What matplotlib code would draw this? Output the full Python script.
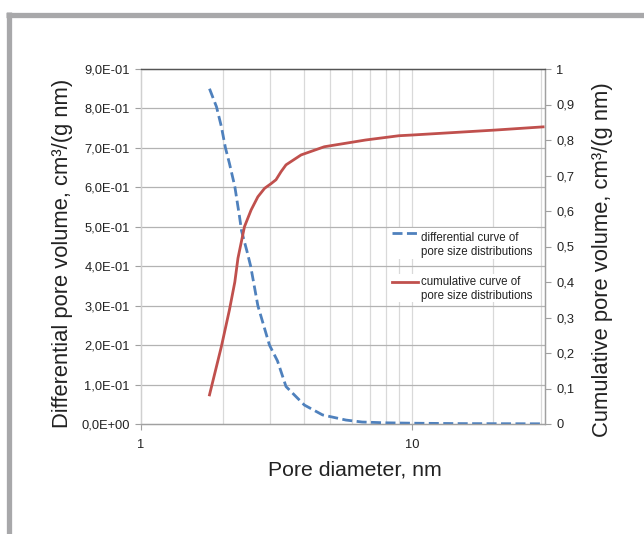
import matplotlib
matplotlib.use("Agg")
import matplotlib.pyplot as plt
from matplotlib.lines import Line2D
from matplotlib.patches import Rectangle
from matplotlib.ticker import FixedLocator, NullFormatter, FixedFormatter

plt.rcParams['font.family'] = ['Liberation Sans', 'DejaVu Sans']

# Differential curve (left axis)
diff_d = [1.79, 1.90, 1.98, 2.05, 2.12, 2.22, 2.31, 2.35, 2.47, 2.54, 2.70, 2.98,
          3.19, 3.43, 4.01, 4.68, 5.71, 6.55, 8.0, 10.0, 15.0, 20.0, 30.5]
diff_v = [0.85, 0.804, 0.754, 0.70, 0.661, 0.602, 0.526, 0.49, 0.434, 0.40, 0.30, 0.20,
          0.160, 0.095, 0.048, 0.023, 0.010, 0.005, 0.003, 0.002, 0.001, 0.0008, 0.0005]

# Cumulative curve (right axis)
cum_d = [1.79, 1.98, 2.12, 2.22, 2.28, 2.41, 2.55, 2.70, 2.86, 3.02, 3.15, 3.29, 3.43,
         3.90, 4.75, 6.75, 8.95, 10.0, 20.3, 30.5]
cum_v = [0.082, 0.218, 0.321, 0.40, 0.467, 0.556, 0.603, 0.640, 0.664, 0.677, 0.688,
         0.711, 0.730, 0.758, 0.781, 0.80, 0.812, 0.814, 0.828, 0.837]

left_ticks = [0.0, 0.1, 0.2, 0.3, 0.4, 0.5, 0.6, 0.7, 0.8, 0.9]
left_labels = ['0,0E+00', '1,0E-01', '2,0E-01', '3,0E-01', '4,0E-01',
               '5,0E-01', '6,0E-01', '7,0E-01', '8,0E-01', '9,0E-01']
right_ticks = [0, 0.1, 0.2, 0.3, 0.4, 0.5, 0.6, 0.7, 0.8, 0.9, 1.0]
right_labels = ['0', '0,1', '0,2', '0,3', '0,4', '0,5', '0,6', '0,7', '0,8', '0,9', '1']
x_major = [1, 10]
x_labels = ['1', '10']
x_grid = [2, 3, 4, 5, 6, 7, 8, 9, 10, 20, 30]
legend_labels = ['differential curve of\npore size distributions',
                 'cumulative curve of\npore size distributions']

BLUE = '#4f81bd'
RED = '#c0504d'
TXT = '#222222'

W, H = 644, 534
AX_L, AX_R, AX_T, AX_B = 141, 545, 69, 424

fig = plt.figure(figsize=(W/100, H/100), dpi=100)
ax = fig.add_axes([AX_L/W, (H-AX_B)/H, (AX_R-AX_L)/W, (AX_B-AX_T)/H])
ax2 = ax.twinx()

def axx(px):
    return (px - AX_L) / (AX_R - AX_L)

def axy(py):
    return (AX_B - py) / (AX_B - AX_T)

ax.set_xscale('log')
ax.set_xlim(1, 31)
ax.set_ylim(0, 0.9)
ax2.set_ylim(0, 1)

# gridlines
for xv in x_grid:
    ax.axvline(xv, color='#d9d9d9', lw=0.9, zorder=0)
for yv in left_ticks[1:-1]:
    ax.axhline(yv, color='#b3b3b3', lw=0.9, zorder=0)

ld, = ax.plot(diff_d, diff_v, color=BLUE, lw=2.0, dashes=(3.6, 1.6), zorder=3)
lc, = ax2.plot(cum_d, cum_v, color=RED, lw=2.0, zorder=3)

ax.xaxis.set_major_locator(FixedLocator(x_major))
ax.xaxis.set_major_formatter(FixedFormatter(x_labels))
ax.xaxis.set_minor_locator(FixedLocator([]))
ax.xaxis.set_minor_formatter(NullFormatter())
ax.set_yticks(left_ticks)
ax.set_yticklabels(left_labels)
ax2.set_yticks(right_ticks)
ax2.set_yticklabels(right_labels)

for a in (ax, ax2):
    a.tick_params(axis='both', labelsize=9.3, colors='#a0a0a0', labelcolor=TXT,
                  length=4, width=0.8)
ax.tick_params(axis='x', pad=7, length=4)
ax.tick_params(axis='y', pad=4)
ax2.tick_params(axis='y', pad=4)

for a in (ax, ax2):
    a.spines['left'].set_color('#d0d0d0')
    a.spines['bottom'].set_color('#a0a0a0')
    a.spines['right'].set_color('#a0a0a0')
    a.spines['top'].set_color('#555555')
    for s in a.spines.values():
        s.set_linewidth(0.9)

ax.set_xlabel('Pore diameter, nm', fontsize=15.3, color=TXT)
ax.xaxis.set_label_coords(axx(355), axy(461), transform=ax.transAxes)
ax.set_ylabel('Differential pore volume, cm³/(g nm)', fontsize=15.8, color=TXT)
ax.yaxis.set_label_coords(axx(73), axy(253), transform=ax.transAxes)
ax2.set_ylabel('Cumulative pore volume, cm³/(g nm)', fontsize=15.8, color=TXT)
ax2.yaxis.set_label_coords(axx(592), axy(260), transform=ax2.transAxes)

# legend (drawn manually to match the original entry layout)
ax2.add_patch(Rectangle((axx(389), axy(259)), axx(537)-axx(389), axy(228)-axy(259),
                        transform=ax2.transAxes, facecolor='white', edgecolor='none', zorder=4))
ax2.add_patch(Rectangle((axx(389), axy(302)), axx(537)-axx(389), axy(274)-axy(302),
                        transform=ax2.transAxes, facecolor='white', edgecolor='none', zorder=4))
ax2.add_line(Line2D([axx(392), axx(420)], [axy(233), axy(233)], transform=ax2.transAxes,
                    color=BLUE, lw=2.0, dashes=(3.6, 1.6), zorder=5))
ax2.add_line(Line2D([axx(392), axx(418)], [axy(282), axy(282)], transform=ax2.transAxes,
                    color=RED, lw=2.0, zorder=5))
ax2.text(axx(421), axy(245), legend_labels[0], transform=ax2.transAxes, fontsize=8.3,
         color=TXT, va='center', ha='left', linespacing=1.3, zorder=6)
ax2.text(axx(421), axy(289), legend_labels[1], transform=ax2.transAxes, fontsize=8.3,
         color=TXT, va='center', ha='left', linespacing=1.3, zorder=6)

# outer gray frame
fig.add_artist(Line2D([6/W, 1.0], [1-14.5/H, 1-14.5/H], color='#a8a8aa',
                      lw=3.8, transform=fig.transFigure, solid_capstyle='butt'))
fig.add_artist(Line2D([8.5/W, 8.5/W], [0, 1-12/H], color='#a8a8aa',
                      lw=3.8, transform=fig.transFigure, solid_capstyle='butt'))

fig.savefig('out.png', dpi=100)
